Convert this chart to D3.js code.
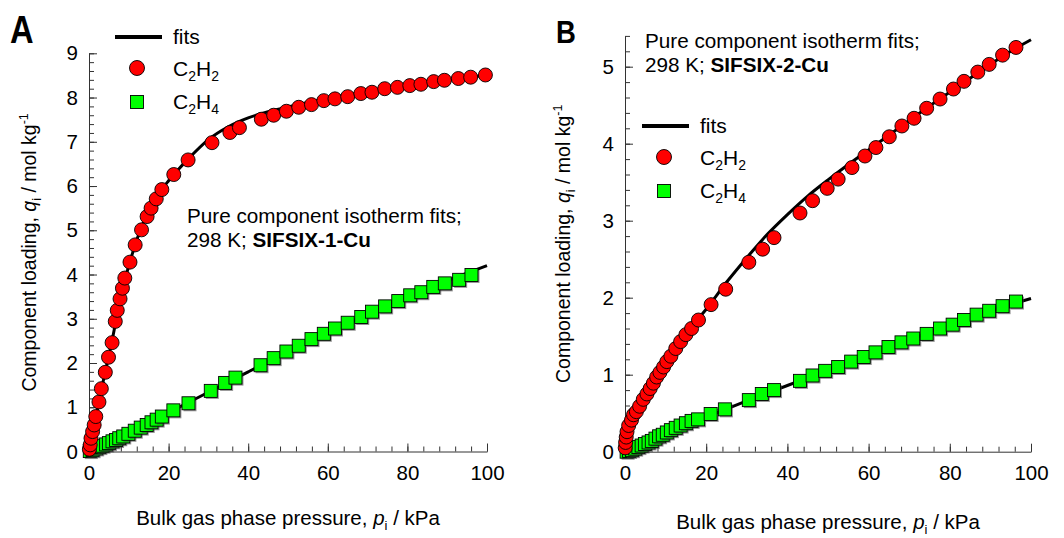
<!DOCTYPE html>
<html>
<head>
<meta charset="utf-8">
<script src="https://cdn.jsdelivr.net/npm/d3@7"></script>
<style>
  html, body { margin: 0; padding: 0; background: #fff; }
  svg { display: block; font-family: "Liberation Sans", Arial, sans-serif; }
</style>
</head>
<body>
<svg id="chart" width="1064" height="538"></svg>
<script>
// ---- SIFSIX-1-Cu, 298 K: experimental loadings [p (kPa), q (mol/kg)] ----
const sifsix1_C2H2 = [
  [0.1,0.05],[0.3,0.15],[0.5,0.3],[0.9,0.45],[1.3,0.6],[1.7,0.79],[2.5,1.12],[3.1,1.42],
  [4.1,1.79],[4.9,2.13],[5.8,2.46],[6.6,2.94],[7.1,3.19],[7.8,3.45],[8.4,3.69],[9.0,3.92],
  [10.3,4.28],[11.6,4.67],[13.2,5.01],[14.6,5.31],[15.6,5.50],[16.9,5.71],[18.3,5.92],
  [21.3,6.26],[24.9,6.59],[30.9,6.98],[35.4,7.21],[37.8,7.32],[43.3,7.51],[46.4,7.60],
  [49.6,7.69],[52.7,7.78],[55.9,7.84],[59.0,7.93],[61.8,7.97],[65.0,8.02],[68.3,8.09],
  [71.1,8.12],[74.3,8.20],[77.5,8.23],[80.6,8.27],[83.4,8.30],[86.6,8.36],[89.3,8.39],
  [92.8,8.43],[95.9,8.46],[99.6,8.51]
];
const sifsix1_C2H4 = [
  [0.2,0.01],[0.9,0.03],[1.8,0.07],[2.6,0.10],[3.4,0.13],[4.3,0.16],[5.0,0.19],[5.9,0.23],
  [6.8,0.26],[7.6,0.30],[8.6,0.34],[9.9,0.40],[11.5,0.47],[13.0,0.54],[14.5,0.60],[15.7,0.66],
  [17.0,0.72],[18.3,0.79],[21.2,0.93],[25.0,1.09],[30.6,1.37],[34.2,1.55],[36.8,1.67],
  [43.1,1.95],[46.4,2.11],[49.6,2.26],[52.7,2.39],[55.9,2.54],[59.0,2.66],[61.8,2.78],
  [65.0,2.91],[68.4,3.04],[71.1,3.16],[74.4,3.28],[77.7,3.40],[80.7,3.53],[83.5,3.60],
  [86.5,3.72],[89.4,3.80],[93.0,3.88],[96.1,3.99]
];
// isotherm fit curves
const sifsix1_fitC2H2 = [
  [0,0],[1,0.45],[2,0.9],[3,1.35],[4,1.77],[5,2.17],[6,2.6],[7,3.05],[8,3.48],[9,3.86],
  [10,4.2],[11,4.5],[12,4.78],[13,5.02],[14,5.24],[16,5.6],[18,5.89],[20,6.12],[22,6.33],
  [25,6.62],[30,7.05],[35,7.34],[40,7.54],[45,7.68],[50,7.79],[55,7.89],[60,7.98],
  [65,8.06],[70,8.13],[75,8.2],[80,8.27],[85,8.33],[90,8.39],[95,8.45],[100,8.51]
];
const sifsix1_fitC2H4 = [
  [0,0],[5,0.2],[10,0.42],[20,0.88],[30,1.34],[40,1.8],[50,2.25],[60,2.68],
  [70,3.1],[80,3.5],[90,3.86],[100,4.2]
];

// ---- SIFSIX-2-Cu, 298 K ----
const sifsix2_C2H2 = [
  [0.05,0.05],[0.15,0.12],[0.3,0.19],[0.5,0.26],[0.9,0.34],[1.6,0.41],[2.1,0.48],[2.8,0.52],
  [3.6,0.59],[4.5,0.68],[5.4,0.75],[6.2,0.82],[7.0,0.89],[7.8,0.97],[8.6,1.03],[9.5,1.10],
  [10.3,1.17],[11.3,1.24],[12.5,1.34],[13.7,1.43],[15.0,1.52],[16.4,1.60],[18.1,1.71],
  [21.2,1.91],[24.8,2.11],[30.5,2.46],[33.9,2.63],[36.7,2.78],[43.1,3.10],[46.2,3.26],
  [49.8,3.42],[52.5,3.54],[55.9,3.69],[59.1,3.84],[61.8,3.95],[65.1,4.09],[68.2,4.23],
  [71.2,4.33],[74.3,4.46],[77.6,4.58],[80.9,4.71],[83.5,4.81],[86.9,4.93],[89.7,5.03],
  [93.0,5.15],[96.3,5.25]
];
const sifsix2_C2H4 = [
  [0.4,0.0],[1.0,0.01],[1.7,0.02],[2.5,0.04],[3.3,0.06],[4.1,0.08],[4.9,0.10],[5.8,0.12],
  [6.6,0.14],[7.5,0.17],[8.4,0.20],[9.3,0.22],[10.3,0.25],[11.3,0.28],[12.5,0.31],[13.7,0.34],
  [15.0,0.37],[16.4,0.40],[18.0,0.42],[21.1,0.49],[24.6,0.55],[30.5,0.67],[33.7,0.75],
  [36.7,0.80],[43.1,0.92],[46.2,0.99],[49.3,1.05],[52.5,1.10],[55.7,1.17],[58.8,1.23],
  [61.7,1.29],[64.9,1.36],[68.1,1.42],[71.0,1.47],[74.3,1.53],[77.6,1.60],[80.7,1.65],
  [83.5,1.71],[86.6,1.78],[89.7,1.83],[93.0,1.89],[96.3,1.95]
];
const sifsix2_fitC2H2 = [
  [0,0],[0.5,0.19],[1,0.28],[2,0.43],[4,0.65],[6,0.83],[8,0.99],[10,1.14],[12,1.29],
  [15,1.5],[18,1.72],[20,1.85],[25,2.2],[30,2.52],[35,2.82],[40,3.08],[45,3.32],[50,3.53],
  [55,3.73],[60,3.92],[65,4.11],[70,4.3],[75,4.49],[80,4.67],[85,4.85],[90,5.03],
  [95,5.2],[100,5.35]
];
const sifsix2_fitC2H4 = [
  [0,0],[5,0.12],[10,0.24],[20,0.45],[30,0.66],[40,0.86],[50,1.06],[60,1.26],
  [70,1.45],[80,1.65],[90,1.83],[100,1.99]
];

// axis tick values
const xMajorTicks = [0, 20, 40, 60, 80, 100];
const xMinorTicks = d3.range(0, 100.01, 4);
const yMajorTicksA = [0,1,2,3,4,5,6,7,8,9];
const yMajorTicksB = [0,1,2,3,4,5];

const svg = d3.select("#chart");
const RED = "#ff0000", GREEN = "#00ff00", AXIS = "#333";

function drawPanel(p) {
  const g = svg.append("g");
  const x = d3.scaleLinear().domain([0, 100]).range([p.x0, p.x1]);
  const y = d3.scaleLinear().domain([0, p.yMax]).range([p.y0, p.y1]);

  // minor ticks
  const yMinor = d3.range(0, p.yMax + 1e-6, 0.2).map(v => +v.toFixed(2));
  g.append("g").attr("transform", `translate(${p.x0},0)`)
    .call(d3.axisLeft(y).tickValues(yMinor).tickSizeInner(-5).tickSizeOuter(0).tickFormat(""))
    .call(s => s.select(".domain").attr("stroke", AXIS))
    .call(s => s.selectAll(".tick line").attr("stroke", AXIS));
  g.append("g").attr("transform", `translate(0,${p.y0})`)
    .call(d3.axisBottom(x).tickValues(xMinorTicks).tickSizeInner(-5).tickSizeOuter(0).tickFormat(""))
    .call(s => s.select(".domain").attr("stroke", AXIS))
    .call(s => s.selectAll(".tick line").attr("stroke", AXIS));

  // major ticks + labels
  g.append("g").attr("transform", `translate(${p.x0},0)`)
    .call(d3.axisLeft(y).tickValues(p.yMajor).tickSizeInner(-8).tickSizeOuter(0).tickPadding(11).tickFormat(d3.format("d")))
    .call(s => s.select(".domain").remove())
    .call(s => s.selectAll(".tick line").attr("stroke", AXIS))
    .call(s => s.selectAll(".tick text").attr("font-size", 20.5).attr("fill", "#000")
      .attr("font-family", "Liberation Sans, Arial, sans-serif"));
  g.append("g").attr("transform", `translate(0,${p.y0})`)
    .call(d3.axisBottom(x).tickValues(xMajorTicks).tickSizeInner(-8).tickSizeOuter(0).tickPadding(14).tickFormat(d3.format("d")))
    .call(s => s.select(".domain").remove())
    .call(s => s.selectAll(".tick line").attr("stroke", AXIS))
    .call(s => s.selectAll(".tick text").attr("font-size", 20.5).attr("fill", "#000")
      .attr("font-family", "Liberation Sans, Arial, sans-serif"));

  // fit curves
  const line = d3.line().x(d => x(d[0])).y(d => y(d[1])).curve(d3.curveMonotoneX);
  [p.fitC2H2, p.fitC2H4].forEach(f => {
    g.append("path").datum(f).attr("d", line)
      .attr("fill", "none").attr("stroke", "#000").attr("stroke-width", 3)
      .attr("stroke-linejoin", "round");
  });

  // C2H4 squares (with slight shadow)
  const sq = 13;
  const sqG = g.append("g");
  p.C2H4.forEach(d => {
    const cx = x(d[0]), cy = y(d[1]);
    sqG.append("rect").attr("x", cx - sq / 2 + 1.5).attr("y", cy - sq / 2 + 1.5)
      .attr("width", sq).attr("height", sq).attr("fill", "#3a3a3a").attr("opacity", 0.55);
    sqG.append("rect").attr("x", cx - sq / 2).attr("y", cy - sq / 2)
      .attr("width", sq).attr("height", sq).attr("fill", GREEN)
      .attr("stroke", "#000").attr("stroke-width", 0.9);
  });

  // C2H2 circles
  g.append("g").selectAll("circle").data(p.C2H2).join("circle")
    .attr("cx", d => x(d[0])).attr("cy", d => y(d[1])).attr("r", 7)
    .attr("fill", RED).attr("stroke", "#000").attr("stroke-width", 0.9);

  // axis titles
  const xt = g.append("text").attr("x", (p.x0 + p.x1) / 2).attr("y", p.xTitleY)
    .attr("text-anchor", "middle").attr("font-size", 20.5);
  xt.append("tspan").text("Bulk gas phase pressure, ");
  xt.append("tspan").attr("font-style", "italic").text("p");
  xt.append("tspan").attr("font-size", 13).attr("dy", 5).text("i");
  xt.append("tspan").attr("dy", -5).text(" / kPa");

  const yt = g.append("text")
    .attr("transform", `translate(${p.yTitleX},${(p.y0 + p.y1) / 2}) rotate(-90)`)
    .attr("text-anchor", "middle").attr("font-size", 19.5);
  yt.append("tspan").text("Component loading, ");
  yt.append("tspan").attr("font-style", "italic").text("q");
  yt.append("tspan").attr("font-size", 12.5).attr("dy", 5).text("i");
  yt.append("tspan").attr("dy", -5).text(" / mol kg");
  yt.append("tspan").attr("font-size", 12.5).attr("dy", -8).text("-1");

  // annotation
  const an = g.append("text").attr("font-size", 20.7);
  an.append("tspan").attr("x", p.noteX).attr("y", p.noteY).text("Pure component isotherm fits;");
  const l2 = an.append("tspan").attr("x", p.noteX).attr("y", p.noteY + 24);
  l2.append("tspan").text("298 K; ");
  l2.append("tspan").attr("font-weight", "bold").text(p.material);

  // legend
  const lg = g.append("g").attr("font-size", 21);
  const lx = p.legX, ly = p.legY;
  lg.append("line").attr("x1", lx - 22).attr("x2", lx + 25).attr("y1", ly).attr("y2", ly)
    .attr("stroke", "#000").attr("stroke-width", 4);
  lg.append("text").attr("x", lx + 36).attr("y", ly + 7).text("fits");
  lg.append("circle").attr("cx", lx).attr("cy", ly + 31).attr("r", 7.5)
    .attr("fill", RED).attr("stroke", "#000").attr("stroke-width", 0.9);
  const formula = (yy, n) => {
    const tx = lg.append("text").attr("x", lx + 36).attr("y", yy);
    tx.append("tspan").text("C");
    tx.append("tspan").attr("font-size", 14).attr("dy", 5).text("2");
    tx.append("tspan").attr("dy", -5).text("H");
    tx.append("tspan").attr("font-size", 14).attr("dy", 5).text(n);
  };
  formula(ly + 39, "2");
  lg.append("rect").attr("x", lx - 6.5).attr("y", ly + 65 - 6.5).attr("width", 13).attr("height", 13)
    .attr("fill", GREEN).attr("stroke", "#000").attr("stroke-width", 0.9);
  formula(ly + 72, "4");

  // panel letter
  svg.append("text").attr("transform", `translate(${p.letterX},${p.letterY}) scale(0.86,1)`)
    .attr("font-size", p.letterSize).attr("font-weight", "bold").text(p.letter);
}

drawPanel({
  x0: 89, x1: 487, y0: 451.5, y1: 53.3, yMax: 9, yMajor: yMajorTicksA,
  C2H2: sifsix1_C2H2, C2H4: sifsix1_C2H4, fitC2H2: sifsix1_fitC2H2, fitC2H4: sifsix1_fitC2H4,
  xTitleY: 525, yTitleX: 36, noteX: 187, noteY: 223, material: "SIFSIX-1-Cu",
  legX: 137, legY: 37, letter: "A", letterX: 10, letterY: 43, letterSize: 38
});
drawPanel({
  x0: 625, x1: 1031, y0: 451.7, y1: 35.9, yMax: 5.4, yMajor: yMajorTicksB,
  C2H2: sifsix2_C2H2, C2H4: sifsix2_C2H4, fitC2H2: sifsix2_fitC2H2, fitC2H4: sifsix2_fitC2H4,
  xTitleY: 529, yTitleX: 570, noteX: 645, noteY: 48, material: "SIFSIX-2-Cu",
  legX: 664, legY: 126, letter: "B", letterX: 556, letterY: 43, letterSize: 32
});
</script>
</body>
</html>
